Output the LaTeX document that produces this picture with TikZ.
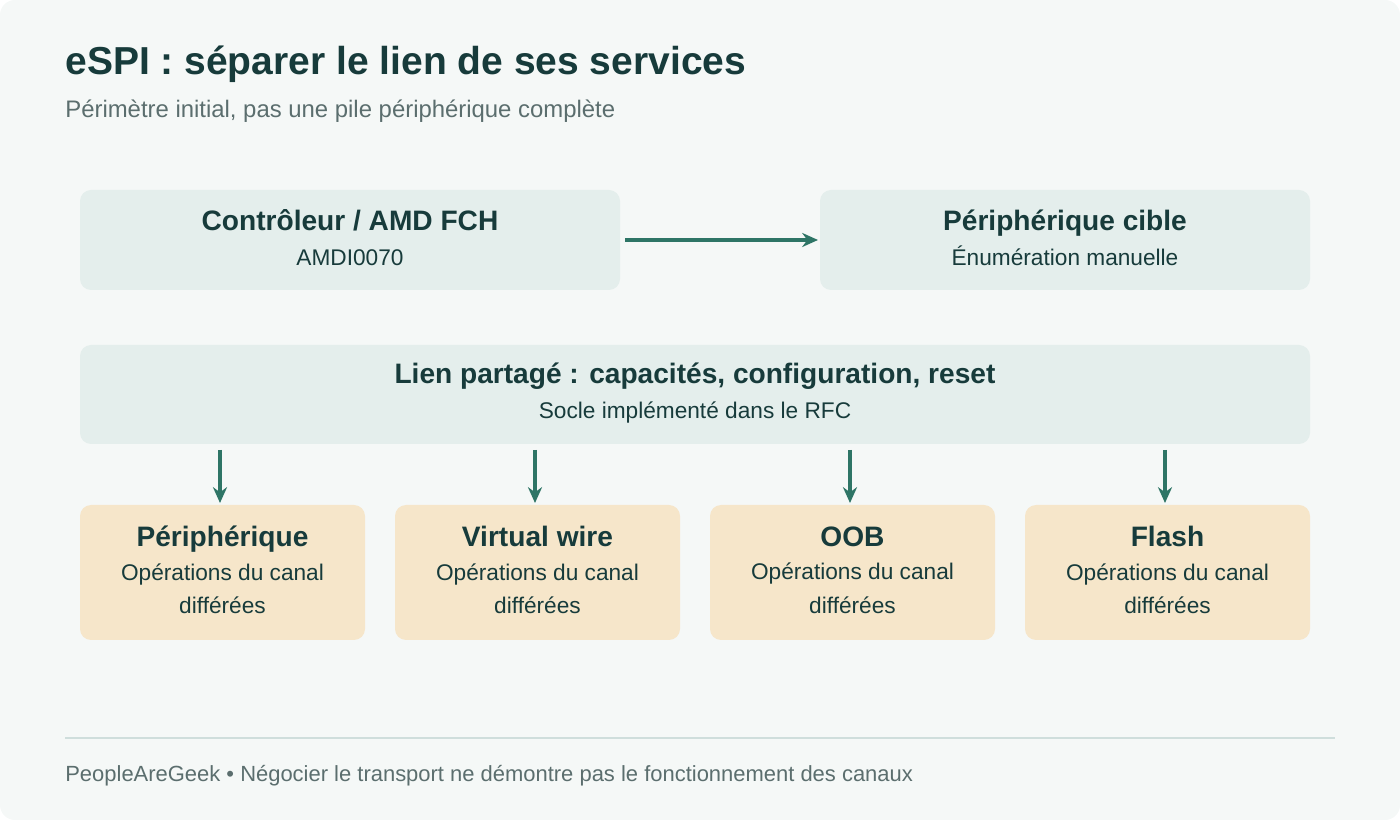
\documentclass[tikz,border=0pt]{standalone}
\usepackage{fontspec}
\setmainfont{Liberation Sans}
\usepackage{tikz}
\usetikzlibrary{arrows.meta}
\definecolor{pageBg}{HTML}{F5F8F7}
\definecolor{linkBox}{HTML}{E4EEEC}
\definecolor{chanBox}{HTML}{F6E6CA}
\definecolor{inkDark}{HTML}{173B3B}
\definecolor{inkGray}{HTML}{5B6E6E}
\definecolor{arrowTeal}{HTML}{2E7566}
\definecolor{ruleLine}{HTML}{CFDEDC}

\begin{document}
\begin{tikzpicture}[
  x=0.02cm, y=-0.02cm,
  flow/.style={
    draw=arrowTeal,
    line width=1.8pt,
    -{Stealth[length=9pt,width=8pt]}
  }
]
\fill[pageBg,rounded corners=0.3cm] (0,0) rectangle (1400,820);
\node[anchor=west,inner sep=0pt,text=inkDark,font=\fontsize{22.2}{26}\selectfont\bfseries] (title) at (65,64) {eSPI : séparer le lien de ses services};
\node[anchor=west,inner sep=0pt,text=inkGray,font=\fontsize{13.6}{16}\selectfont] (subtitle) at (65,111) {Périmètre initial, pas une pile périphérique complète};
% controller and target
\fill[linkBox,rounded corners=0.22cm] (80,190) rectangle (620,290);
\fill[linkBox,rounded corners=0.22cm] (820,190) rectangle (1310,290);
\node[text=inkDark,align=center,font=\fontsize{12.9}{20}\selectfont] (ctrl) at (350,238)
  {{\fontsize{16}{19}\selectfont\bfseries Contrôleur / AMD FCH}\\AMDI0070};
\node[text=inkDark,align=center,font=\fontsize{12.9}{20}\selectfont] (target) at (1065,238)
  {{\fontsize{16}{19}\selectfont\bfseries Périphérique cible}\\Énumération manuelle};
\coordinate (ctrlE) at (625,240);
\coordinate (targetW) at (818,240);
\draw[flow] (ctrlE) -- (targetW);
% shared link
\fill[linkBox,rounded corners=0.22cm] (80,345) rectangle (1310,444);
\node[text=inkDark,align=center,font=\fontsize{12.9}{20}\selectfont] (link) at (695,393)
  {{\fontsize{16}{19}\selectfont\bfseries Lien partagé : capacités, configuration, reset}\\Socle implémenté dans le RFC};
% channels
\foreach \x/\name/\label in {80/peri/Périphérique, 395/vw/Virtual wire, 710/oob/OOB, 1025/flash/Flash}{
  \fill[chanBox,rounded corners=0.22cm] (\x,505) rectangle ++(285,135);
  \node[text=inkDark,align=center,font=\fontsize{12.9}{19}\selectfont] (\name) at (\x+142.5,570)
    {{\fontsize{16}{19}\selectfont\bfseries \label}\\Opérations du canal\\différées};
  \coordinate (\name top) at (\x+140,450);
  \coordinate (\name in) at (\x+140,503);
  \draw[flow] (\name top) -- (\name in);
}
% footer
\coordinate (ruleW) at (65,738);
\coordinate (ruleE) at (1335,738);
\draw[ruleLine,line width=1.7pt] (ruleW) -- (ruleE);
\node[anchor=west,inner sep=0pt,text=inkGray,font=\fontsize{12.5}{15}\selectfont] (footer) at (65,776) {PeopleAreGeek • Négocier le transport ne démontre pas le fonctionnement des canaux};
\end{tikzpicture}
\end{document}
